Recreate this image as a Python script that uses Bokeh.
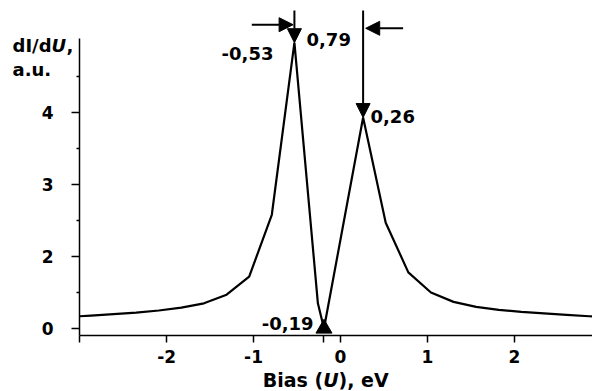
from bokeh.plotting import figure
from bokeh.models import Range1d, FixedTicker, Label, Arrow, NormalHead
from bokeh.embed import file_html
from bokeh.resources import INLINE

# ---- data ----
bias = [-3.00, -2.87, -2.61, -2.35, -2.09, -1.83, -1.57, -1.31, -1.05, -0.79,
        -0.53, -0.26, -0.19, 0.26, 0.52, 0.78, 1.04, 1.30, 1.56, 1.82,
        2.08, 2.34, 2.60, 2.86, 3.12]
didu = [1.17, 1.18, 1.20, 1.22, 1.25, 1.29, 1.35, 1.47, 1.72, 2.58,
        4.97, 1.35, 1.00, 3.93, 2.47, 1.78, 1.50, 1.37, 1.30, 1.26,
        1.23, 1.21, 1.19, 1.17, 1.16]

y_ticks = [1, 2, 3, 4]
y_minor_ticks = [1.5, 2.5, 3.5, 4.5]
y_tick_labels = {1: "0", 2: "2", 3: "3", 4: "4"}
x_ticks = [-3, -2, -1, -0.19, 0, 1, 2]
x_tick_labels = {-3: "", -2: "-2", -1: "-1", -0.19: "", 0: "0", 1: "1", 2: "2"}

peak1 = (-0.53, 4.97)
peak2 = (0.26, 3.93)
dip = (-0.19, 1.00)

X_START, X_END = -3.0, 2.9
Y_START, Y_TOP = 0.903, 5.03


def fmt(v):
    return f"{v:.2f}".replace(".", ",")


FONT = "DejaVu Sans"

p = figure(width=592, height=391,
           x_range=Range1d(-3.910, 2.898), y_range=Range1d(0.125, 5.556),
           output_backend="svg", toolbar_location=None,
           min_border_left=0, min_border_right=0, min_border_top=0,
           min_border_bottom=0)
p.outline_line_color = None
p.xgrid.visible = False
p.ygrid.visible = False
p.background_fill_color = "white"

p.line(bias, didu, line_color="black", line_width=2.2)

# axes (placed at fixed data positions so the frame can hold the titles)
for ax in (p.xaxis[0], p.yaxis[0]):
    ax.axis_line_color = "black"
    ax.axis_line_width = 1.5
    ax.major_tick_line_color = "black"
    ax.major_tick_line_width = 1.5
    ax.minor_tick_line_color = "black"
    ax.minor_tick_line_width = 1.5
    ax.major_tick_in = 0
    ax.minor_tick_in = 0
    ax.major_label_text_font = FONT
    ax.major_label_text_font_style = "bold"
    ax.major_label_text_font_size = "17px"
    ax.major_label_text_color = "black"

p.yaxis.ticker = FixedTicker(ticks=y_ticks, minor_ticks=y_minor_ticks)
p.yaxis.major_label_overrides = y_tick_labels
p.yaxis.major_tick_out = 8
p.yaxis.minor_tick_out = 3
p.yaxis.major_label_standoff = 18
p.yaxis.bounds = (Y_START, Y_TOP)
p.yaxis.fixed_location = X_START

p.xaxis.ticker = FixedTicker(ticks=x_ticks, minor_ticks=[])
p.xaxis.major_label_overrides = x_tick_labels
p.xaxis.major_tick_out = 7
p.xaxis.major_label_standoff = 8
p.xaxis.bounds = (X_START, X_END)
p.xaxis.fixed_location = Y_START

# arrows
arrow_top = 5.417


def head():
    return NormalHead(size=14, fill_color="black", line_color="black")


p.add_layout(Arrow(end=head(), x_start=peak1[0], y_start=arrow_top,
                   x_end=peak1[0], y_end=peak1[1], line_width=2))
p.add_layout(Arrow(end=head(), x_start=peak2[0], y_start=arrow_top,
                   x_end=peak2[0], y_end=peak2[1], line_width=2))
p.add_layout(Arrow(end=head(), x_start=-1.02, y_start=5.22,
                   x_end=peak1[0] - 0.015, y_end=5.22, line_width=2))
p.add_layout(Arrow(end=head(), x_start=0.72, y_start=5.17,
                   x_end=peak2[0] + 0.03, y_end=5.17, line_width=2))
p.scatter([dip[0]], [dip[1]], marker="triangle", size=16,
          fill_color="black", line_color="black")


def lab(x, y, text, align="left", size="18px", style="bold", x_offset=0):
    p.add_layout(Label(x=x, y=y, text=text, text_align=align,
                       text_baseline="alphabetic", text_font=FONT,
                       text_font_style=style, text_font_size=size,
                       text_color="black", x_offset=x_offset))


lab(-0.771, 4.82, fmt(peak1[0]), align="right")
lab(-0.391, 5.01, fmt(peak2[0] - peak1[0]))
lab(0.345, 3.94, fmt(peak2[0]))
lab(-0.31, 1.07, fmt(dip[0]), align="right")

# y title
lab(-3.772, 4.931, "dI/d")
lab(-3.772, 4.931, "U", style="bold italic", x_offset=39)
lab(-3.772, 4.931, ",", x_offset=54)
lab(-3.772, 4.597, "a.u.")

# x title
lab(-0.894, 0.278, "Bias (", size="19px")
lab(-0.894, 0.278, "U", size="19px", style="bold italic", x_offset=60.4)
lab(-0.894, 0.278, "), eV", size="19px", x_offset=75.8)

open("out.html", "w").write(file_html(p, INLINE))
